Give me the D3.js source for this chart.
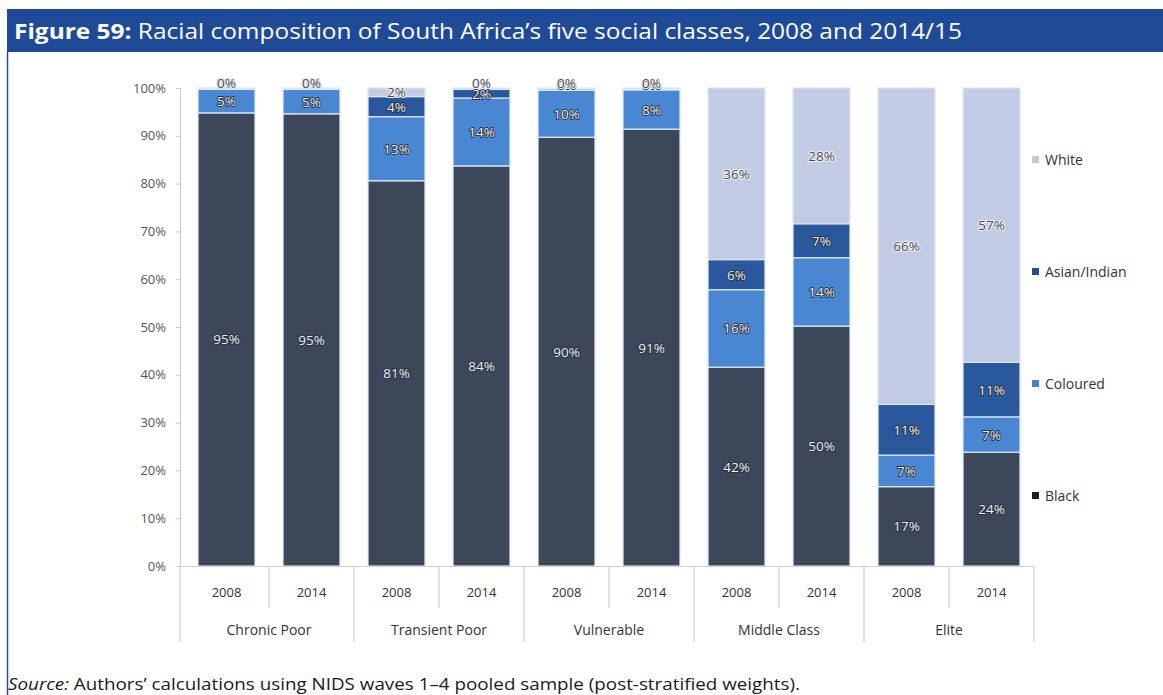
<!DOCTYPE html>
<html><head><meta charset="utf-8">
<script src="https://cdn.jsdelivr.net/npm/d3@7"></script>
<style>body{margin:0;background:#fff;} svg{display:block;}</style>
</head><body>
<svg id="c" width="1163" height="695"></svg>
<script>
// ---- data ----
const groups = ["Chronic Poor","Transient Poor","Vulnerable","Middle Class","Elite"];
const years = ["2008","2014"];
const races = ["Black","Coloured","Asian/Indian","White"];
// values in %, order per bar: Chronic 2008, Chronic 2014, Transient 2008, ... Elite 2014
const black    = [94.8, 94.6, 80.6, 83.7, 89.7, 91.4, 41.6, 50.2, 16.6, 23.8];
const coloured = [ 4.9,  5.1, 13.4, 14.2,  9.8,  8.2, 16.2, 14.3,  6.6,  7.4];
const asian    = [ 0.2,  0.2,  4.2,  1.8,  0.3,  0.2,  6.3,  7.1, 10.6, 11.4];
const white    = [ 0.1,  0.1,  1.8,  0.3,  0.2,  0.2, 35.9, 28.4, 66.2, 57.4];
const yTicks = [0,10,20,30,40,50,60,70,80,90,100];

const colors = {"Black":"#3c475a","Coloured":"#4a87d3","Asian/Indian":"#2a589d","White":"#c1cbe4"};
const legendColors = {"Black":"#1e1e1e","Coloured":"#4a7fc9","Asian/Indian":"#24508f","White":"#c9c9c9"};
const seriesVals = {"Black":black,"Coloured":coloured,"Asian/Indian":asian,"White":white};

const bars = [];
groups.forEach((g,gi)=>years.forEach((yr,yi)=>{
  const i = gi*2+yi; const row = {key:g+"|"+yr, group:g, year:yr};
  races.forEach(r=>row[r]=seriesVals[r][i]); bars.push(row);
}));

const svg = d3.select("#c");
const font = "'Open Sans', 'Noto Sans', sans-serif";

// frame & title bar
svg.append("rect").attr("x",7).attr("y",9).attr("width",1163).attr("height",43).attr("fill","#1f4a97");
svg.append("line").attr("x1",7.5).attr("x2",7.5).attr("y1",52).attr("y2",695).attr("stroke","#2b4f94").attr("stroke-width",1.5);
const title = svg.append("text").attr("x",14).attr("y",39).attr("fill","#fff")
  .attr("font-family",font).attr("font-size",21)
  .attr("textLength",948).attr("lengthAdjust","spacingAndGlyphs");
title.append("tspan").attr("font-weight","bold").text("Figure 59:");
title.append("tspan").text(" Racial composition of South Africa\u2019s five social classes, 2008 and 2014/15");

// scales
const x = d3.scaleBand().domain(bars.map(d=>d.key)).range([184,1034]).paddingInner(0.33).paddingOuter(0.165);
const y = d3.scaleLinear().domain([0,100]).range([566,88]);

// y axis
const yAxis = svg.append("g").attr("transform","translate(180,0)")
  .call(d3.axisLeft(y).tickValues(yTicks).tickFormat(d=>d+"%").tickSize(4).tickPadding(10));
yAxis.select(".domain").attr("stroke","#c8c8c8");
yAxis.selectAll(".tick line").attr("stroke","#c8c8c8");
yAxis.selectAll(".tick text").attr("font-family",font).attr("font-size",13).attr("fill","#555");

// stacked bars
const stack = d3.stack().keys(races)(bars);
const layer = svg.append("g").selectAll("g").data(stack).join("g").attr("fill",d=>colors[d.key]);
layer.selectAll("rect").data(d=>d).join("rect")
  .attr("x",d=>x(d.data.key)).attr("width",x.bandwidth())
  .attr("y",d=>y(d[1])).attr("height",d=>y(d[0])-y(d[1]))
  .attr("stroke","#dde7f6").attr("stroke-width",1.2);

// labels
const fmt = d=>Math.round(d)+"%";
const lab = svg.append("g").attr("font-family",font).attr("font-size",13.5).attr("text-anchor","middle");
stack.forEach(s=>{
  s.forEach(d=>{
    const v = d[1]-d[0];
    const isWhite = s.key==="White";
    const yy = v<1 ? y(d[1]) : (y(d[0])+y(d[1]))/2 + 5;
    lab.append("text")
      .attr("x",x(d.data.key)+x.bandwidth()/2)
      .attr("y",yy)
      .attr("fill",isWhite?"#4a4a4a":"#eef2f7")
      .attr("stroke",isWhite?"#f2f4fa":"#27303f").attr("stroke-width",isWhite?2:1.8)
      .attr("paint-order","stroke").attr("stroke-linejoin","round")
      .text(fmt(v));
  });
});

// x axis (multi-level)
const ax = svg.append("g").attr("stroke","#cfcfcf").attr("stroke-width",1.2);
ax.append("line").attr("x1",180).attr("x2",1034).attr("y1",566.5).attr("y2",566.5);
const step = x.step();
const x0 = x.range()[0];
for(let i=0;i<=bars.length;i++){
  const xx = x0 + i*step;
  const long = i%2===0;
  ax.append("line").attr("x1",i===0?180:xx).attr("x2",i===0?180:xx).attr("y1",566).attr("y2",long?642:608);
}
svg.append("g").selectAll("text").data(bars).join("text")
  .attr("x",d=>x(d.key)+x.bandwidth()/2).attr("y",597)
  .attr("text-anchor","middle").attr("font-family",font).attr("font-size",13).attr("fill","#333")
  .text(d=>d.year);
svg.append("g").selectAll("text").data(groups).join("text")
  .attr("x",(d,i)=>x0+step*(2*i+1)).attr("y",635)
  .attr("text-anchor","middle").attr("font-family",font).attr("font-size",14).attr("fill","#333")
  .text(d=>d);

// legend
const legY = {"White":160,"Asian/Indian":272,"Coloured":384,"Black":496};
const leg = svg.append("g");
races.forEach(r=>{
  leg.append("rect").attr("x",1032).attr("y",legY[r]-4).attr("width",7).attr("height",7).attr("fill",legendColors[r]);
  leg.append("text").attr("x",1045).attr("y",legY[r]+5).attr("font-family",font).attr("font-size",14).attr("fill","#333").text(r);
});

// source
const src = svg.append("text").attr("x",8).attr("y",690).attr("fill","#1a1a1a").attr("font-family",font).attr("font-size",17)
  .attr("textLength",792).attr("lengthAdjust","spacingAndGlyphs");
src.append("tspan").attr("font-style","italic").text("Source:");
src.append("tspan").text(" Authors\u2019 calculations using NIDS waves 1\u20134 pooled sample (post-stratified weights).");
</script>
</body></html>
